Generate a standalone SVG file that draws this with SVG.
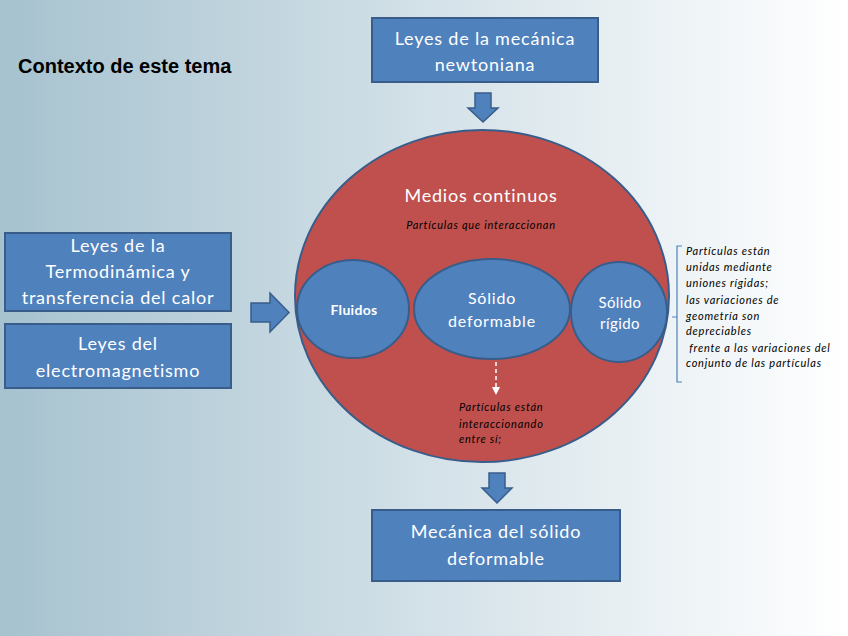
<svg xmlns="http://www.w3.org/2000/svg" width="848" height="636" viewBox="0 0 848 636">
<defs>
<linearGradient id="bg" x1="0" y1="0" x2="1" y2="0">
<stop offset="0" stop-color="#a6c2cf"/>
<stop offset="0.5" stop-color="#d3e1e8"/>
<stop offset="1" stop-color="#ffffff"/>
</linearGradient>
<marker id="wh" markerWidth="8" markerHeight="8" refX="4" refY="4" orient="auto" markerUnits="userSpaceOnUse">
<path d="M0,0 L8,4 L0,8 Z" fill="#ffffff"/>
</marker>
</defs>
<style>
.box{fill:#4f81bd;stroke:#385d8a;stroke-width:2}
.blk{fill:#4f81bd;stroke:#385d8a;stroke-width:1.5}
.wt{font-family:Lato,"Open Sans",sans-serif;fill:#ffffff;text-anchor:middle;letter-spacing:0.8px}
.it{font-family:Lato,"Open Sans",sans-serif;font-style:italic;fill:#000000;font-size:11px;letter-spacing:0.75px}
</style>
<rect width="848" height="636" fill="url(#bg)"/>
<text x="18" y="73" font-family="Liberation Sans,Arial,sans-serif" font-size="20" font-weight="bold" fill="#000">Contexto de este tema</text>

<g id="n-newton">
<rect class="box" x="372" y="18" width="226" height="64"/>
<text class="wt" x="485" y="45" font-size="18">Leyes de la mecánica</text>
<text class="wt" x="485" y="71" font-size="18">newtoniana</text>
</g>

<g id="n-termo">
<rect class="box" x="5" y="233" width="226" height="78"/>
<text class="wt" x="118" y="252" font-size="18">Leyes de la</text>
<text class="wt" x="118" y="278" font-size="18">Termodinámica y</text>
<text class="wt" x="118" y="304" font-size="18">transferencia del calor</text>
</g>

<g id="n-electro">
<rect class="box" x="5" y="324" width="226" height="64"/>
<text class="wt" x="118" y="350" font-size="18">Leyes del</text>
<text class="wt" x="118" y="377" font-size="18">electromagnetismo</text>
</g>

<g id="n-medios">
<ellipse cx="482" cy="296" rx="187" ry="166" fill="#c0504d" stroke="#385d8a" stroke-width="2"/>
<text class="wt" x="481" y="202" font-size="18">Medios continuos</text>
<text class="it" x="481" y="229" text-anchor="middle">Partículas que interaccionan</text>
</g>

<g id="n-fluidos">
<ellipse cx="353" cy="309" rx="56" ry="49" fill="#4f81bd" stroke="#385d8a" stroke-width="2"/>
<text class="wt" x="354" y="315" font-size="14" font-weight="bold" style="letter-spacing:0.3px">Fluidos</text>
</g>

<g id="n-deformable">
<ellipse cx="492" cy="309" rx="78" ry="50" fill="#4f81bd" stroke="#385d8a" stroke-width="2"/>
<text class="wt" x="492" y="304" font-size="16">Sólido</text>
<text class="wt" x="492" y="327" font-size="16">deformable</text>
</g>

<g id="n-rigido">
<ellipse cx="619" cy="312" rx="48" ry="50" fill="#4f81bd" stroke="#385d8a" stroke-width="2"/>
<text class="wt" x="620" y="308" font-size="15" style="letter-spacing:0.4px">Sólido</text>
<text class="wt" x="620" y="329" font-size="15" style="letter-spacing:0.4px">rígido</text>
</g>

<g id="n-interacc">
<text class="it" x="459" y="411">Partículas están</text>
<text class="it" x="459" y="428">interaccionando</text>
<text class="it" x="459" y="443">entre sí;</text>
</g>

<g id="n-rigidonote">
<text class="it" x="686" y="255">Partículas están</text>
<text class="it" x="686" y="271">unidas mediante</text>
<text class="it" x="686" y="287">uniones rígidas;</text>
<text class="it" x="686" y="304">las variaciones de</text>
<text class="it" x="686" y="320">geometría son</text>
<text class="it" x="686" y="335">depreciables</text>
<text class="it" x="686" y="352" xml:space="preserve"> frente a las variaciones del</text>
<text class="it" x="686" y="367">conjunto de las partículas</text>
</g>

<g id="n-mecanica">
<rect class="box" x="372" y="510" width="248" height="71"/>
<text class="wt" x="496" y="538" font-size="18">Mecánica del sólido</text>
<text class="wt" x="496" y="565" font-size="18">deformable</text>
</g>

<g id="connectors">
<path class="blk" d="M475,93 H491 V108 H498 L483,122 L468,108 H475 Z"/>
<path class="blk" d="M251,303 H270 V293 L289,312.5 L270,332 V322 H251 Z"/>
<path class="blk" d="M489,473 H505 V488 H512 L497,503 L482,488 H489 Z"/>
<line x1="496" y1="362" x2="496" y2="391" stroke="#ffffff" stroke-width="1.5" stroke-dasharray="4,3" marker-end="url(#wh)"/>
<path d="M682,246 H677 V382 H682 M677,317 H672" fill="none" stroke="#4f81bd" stroke-width="1.2"/>
</g>
</svg>
